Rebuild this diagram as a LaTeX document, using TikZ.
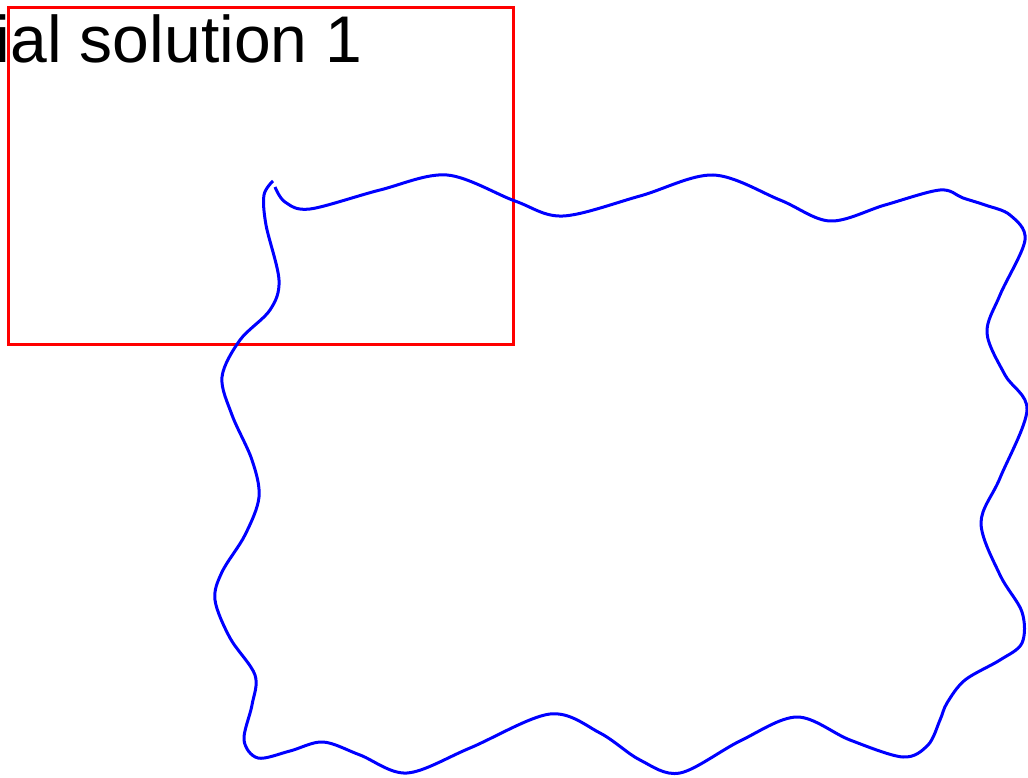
\documentclass[tikz,border=0pt]{standalone}
\usepackage{fontspec}
\setmainfont{Liberation Sans}
\begin{document}
\begin{tikzpicture}[x=1pt,y=-1pt,
  frame/.style={draw=red,line width=3pt,line join=miter},
  wave/.style={draw=blue,line width=3pt,line cap=butt},
  title/.style={font=\fontsize{66}{70}\selectfont,inner sep=0pt,anchor=base west}]
\useasboundingbox (0,0) rectangle (1028,778);
\draw[frame] (8,8) rectangle (513,344);
\node[title] (label) at (-4.5,63) {ial solution 1};
\draw[wave] plot[smooth,tension=0.55] coordinates {
 (273,181) (264,195) (266,225) (279,280) (270,310) (240,340) (222,377)
 (232,415) (252,460) (259,497) (245,535) (222,572) (215,600) (230,638)
 (255,675) (252,705) (244,740) (258,758) (290,751) (323,742) (360,755)
 (407,773) (470,748) (550,714) (600,733) (640,760) (680,773) (740,741)
 (797,717) (850,740) (903,757) (928,745) (940,720) (947,703) (965,680)
 (1000,660) (1022,643) (1022,612) (1000,575) (981,523) (1000,478)
 (1027,410) (1005,375) (987,333) (1000,295) (1025,240) (1010,215)
 (985,205) (963,198) (940,190) (885,205) (830,221) (780,200) (713,175)
 (640,196) (563,216) (515,201) (447,175) (380,190) (310,209) (285,202)
 (275,187)};
\end{tikzpicture}
\end{document}
